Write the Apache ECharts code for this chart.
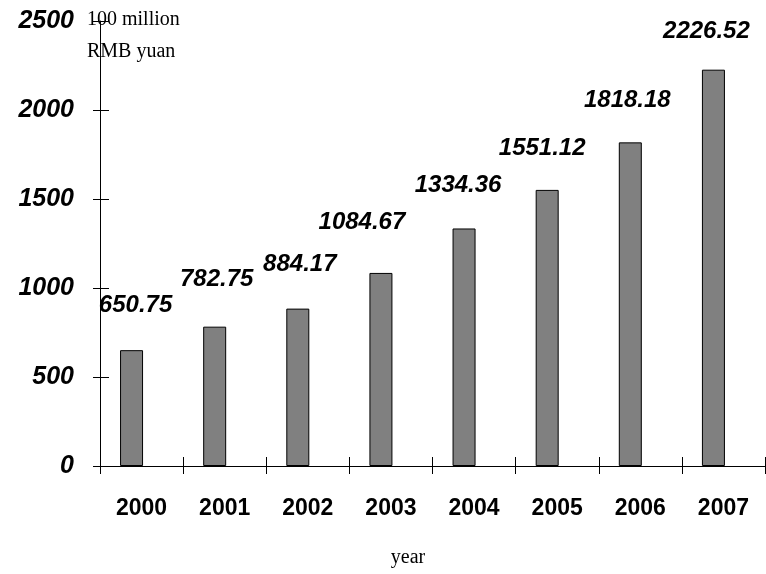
<!DOCTYPE html>
<html>
<head>
<meta charset="utf-8">
<script src="https://cdn.jsdelivr.net/npm/echarts@6/dist/echarts.min.js"></script>
<style>
html,body{margin:0;padding:0;background:#fff;}
#chart{width:766px;height:574px;}
</style>
</head>
<body>
<div id="chart"></div>
<script>
var years = ['2000','2001','2002','2003','2004','2005','2006','2007'];
var revenue = [650.75, 782.75, 884.17, 1084.67, 1334.36, 1551.12, 1818.18, 2226.52];
var yTicks = [0, 500, 1000, 1500, 2000, 2500];
var unitLabel = '100 million\nRMB yuan';
var xLabel = 'year';

// label placement tweaks (style only)
var labelDx = [4, 2, 2, -19, -6, -5, -3, -7];
var labelDist = [33, 35, 32, 39, 31, 30, 30, 26];

var chart = echarts.init(document.getElementById('chart'), null, {renderer: 'canvas'});
var sans = '"Liberation Sans", Arial, sans-serif';
var serif = '"Liberation Serif", "Times New Roman", serif';

var barData = revenue.map(function (v, i) {
  return {
    value: v,
    label: {offset: [labelDx[i], -(labelDist[i] - 30)]}
  };
});

var option = {
  backgroundColor: '#ffffff',
  animation: false,
  grid: {left: 100, right: 1, top: 21, bottom: 108, containLabel: false},
  xAxis: [{
    type: 'category',
    data: years,
    boundaryGap: true,
    axisLine: {show: true, lineStyle: {color: '#000', width: 1}},
    axisTick: {show: true, length: 8, lineStyle: {color: '#000'}},
    axisLabel: {color: '#000', fontFamily: sans, fontSize: 23, fontWeight: 'bold', margin: 31},
    splitLine: {show: false}
  }, {
    type: 'category',
    data: years,
    position: 'bottom',
    boundaryGap: true,
    axisLine: {show: false},
    axisTick: {show: true, inside: true, length: 9, lineStyle: {color: '#000'}},
    axisLabel: {show: false},
    splitLine: {show: false}
  }],
  yAxis: [{
    type: 'value',
    min: yTicks[0],
    max: yTicks[yTicks.length - 1],
    interval: yTicks[1] - yTicks[0],
    position: 'left',
    axisLine: {show: true, lineStyle: {color: '#000', width: 1}},
    axisTick: {show: true, length: 7, lineStyle: {color: '#000'}},
    axisLabel: {color: '#000', fontFamily: sans, fontSize: 25, fontWeight: 'bold', fontStyle: 'italic', margin: 26,
      formatter: function (v) { return String(v); }},
    splitLine: {show: false}
  }, {
    type: 'value',
    min: yTicks[0],
    max: yTicks[yTicks.length - 1],
    interval: yTicks[1] - yTicks[0],
    position: 'left',
    axisLine: {show: false},
    axisTick: {show: true, inside: true, length: 9, lineStyle: {color: '#000'}},
    axisLabel: {show: false},
    splitLine: {show: false}
  }],
  series: [{
    type: 'bar',
    data: barData,
    barWidth: 23,
    barGap: '-13%',
    itemStyle: {color: '#808080', borderColor: '#000', borderWidth: 1},
    label: {
      show: true,
      position: 'top',
      distance: 30,
      color: '#000',
      fontFamily: sans,
      fontSize: 24,
      fontWeight: 'bold',
      fontStyle: 'italic',
      formatter: function (p) { return p.value.toFixed(2); }
    }
  }, {
    type: 'bar',
    data: years.map(function () { return null; }),
    barWidth: 23,
    itemStyle: {color: 'transparent'}
  }],
  graphic: [{
    type: 'text',
    left: 87,
    top: 4,
    style: {text: unitLabel, font: '20px ' + serif, fill: '#000', lineHeight: 32}
  }, {
    type: 'text',
    x: 408,
    y: 558,
    style: {text: xLabel, font: '20px ' + serif, fill: '#000', textAlign: 'center', textVerticalAlign: 'middle'}
  }]
};
chart.setOption(option);
</script>
</body>
</html>
